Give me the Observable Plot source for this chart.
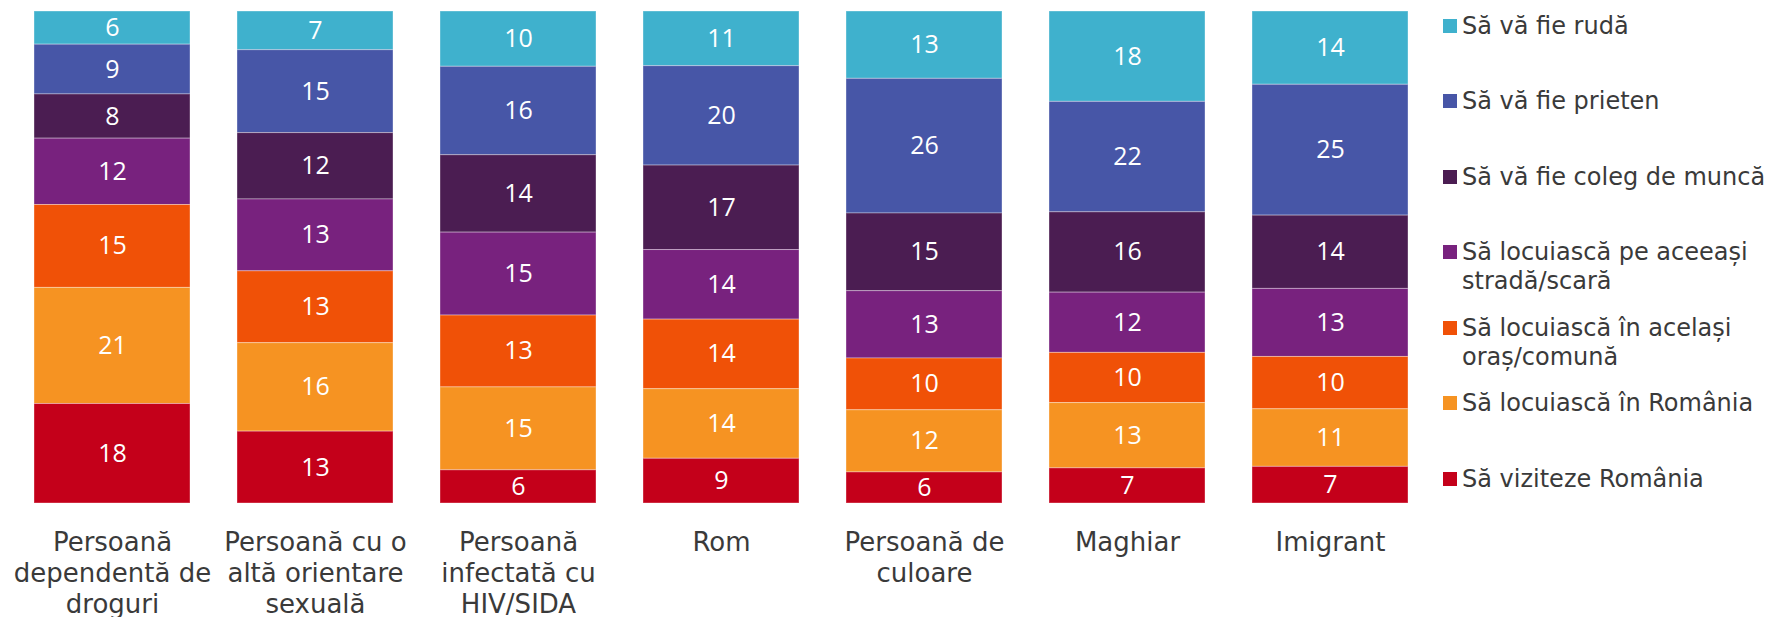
<!DOCTYPE html>
<html>
<head>
<meta charset="utf-8">
<script src="https://cdn.jsdelivr.net/npm/d3@7"></script>
<script src="https://cdn.jsdelivr.net/npm/@observablehq/plot@0.6"></script>
<style>
  html, body { margin: 0; padding: 0; background: #fff; }
  #wrap { position: relative; width: 1770px; height: 617px; overflow: hidden; font-family: "DejaVu Sans", Verdana, sans-serif; }
  #legend { position: absolute; left: 0; top: 0; }
  .li { position: absolute; left: 1443px; font-size: 24px; line-height: 29px; color: #3a3a3a; white-space: nowrap; }
  .sw { position: absolute; left: 0; top: 7px; width: 14px; height: 14px; }
  .lt { position: absolute; left: 19px; top: 0; }
</style>
</head>
<body>
<div id="wrap"><div id="legend"></div></div>
<script>
const categories = ["Persoană dependentă de droguri", "Persoană cu o altă orientare sexuală", "Persoană infectată cu HIV/SIDA", "Rom", "Persoană de culoare", "Maghiar", "Imigrant"];
const tickLabels = ["Persoană\ndependentă de\ndroguri", "Persoană cu o\naltă orientare\nsexuală", "Persoană\ninfectată cu\nHIV/SIDA", "Rom", "Persoană de\nculoare", "Maghiar", "Imigrant"];
// series listed top to bottom
const series = ["Să vă fie rudă", "Să vă fie prieten", "Să vă fie coleg de muncă", "Să locuiască pe aceeași stradă/scară", "Să locuiască în același oraș/comună", "Să locuiască în România", "Să viziteze România"];
const legendLabels = ["Să vă fie rudă", "Să vă fie prieten", "Să vă fie coleg de muncă", "Să locuiască pe aceeași\nstradă/scară", "Să locuiască în același\noraș/comună", "Să locuiască în România", "Să viziteze România"];
const colors = ["#3fb1cd", "#4756a7", "#4b1d52", "#78227e", "#f05107", "#f69322", "#c4001a"];
const rudaValues     = [6, 7, 10, 11, 13, 18, 14];
const prietenValues  = [9, 15, 16, 20, 26, 22, 25];
const colegValues    = [8, 12, 14, 17, 15, 16, 14];
const stradaValues   = [12, 13, 15, 14, 13, 12, 13];
const orasValues     = [15, 13, 13, 14, 10, 10, 10];
const romaniaValues  = [21, 16, 15, 14, 12, 13, 11];
const viziteazaValues = [18, 13, 6, 9, 6, 7, 7];
const seriesValues = [rudaValues, prietenValues, colegValues, stradaValues, orasValues, romaniaValues, viziteazaValues];

const data = [];
series.forEach((s, si) => categories.forEach((c, ci) => data.push({category: c, series: s, value: seriesValues[si][ci]})));

const stackOrder = series.slice().reverse(); // bottom first
const pi = 47 / 203;

const chart = Plot.plot({
  width: 1770,
  height: 617,
  marginTop: 11,
  marginBottom: 114,
  marginLeft: 0,
  marginRight: 0,
  style: {fontFamily: "'DejaVu Sans', Verdana, sans-serif", background: "white"},
  x: {domain: categories, range: [10.5, 1431.5], paddingInner: pi, paddingOuter: pi / 2, round: false, label: null},
  y: {domain: [0, 1], range: [503, 11], axis: null},
  color: {domain: series, range: colors},
  marks: [
    Plot.barY(data, Plot.stackY({offset: "normalize", order: stackOrder}, {x: "category", y: "value", z: "series", fill: "series", stroke: "white", strokeOpacity: 0.35, strokeWidth: 1})),
    Plot.text(data, Plot.stackY({offset: "normalize", order: stackOrder}, {x: "category", y: "value", z: "series", text: d => String(d.value), fill: "white", fontSize: 25, fontFamily: "'Open Sans', 'DejaVu Sans', sans-serif"})),
    Plot.axisX({tickSize: 0, tickPadding: 25.5, fontSize: 26, lineHeight: 1.19, fill: "#3a3a3a", tickFormat: d => tickLabels[categories.indexOf(d)], label: null})
  ]
});
document.getElementById("wrap").insertBefore(chart, document.getElementById("legend"));

const legend = document.getElementById("legend");
legendLabels.forEach((lab, i) => {
  const item = document.createElement("div");
  item.className = "li";
  item.style.top = (26 + i * 75.5 - 14.5) + "px";
  const sw = document.createElement("div");
  sw.className = "sw";
  sw.style.background = colors[i];
  const t = document.createElement("div");
  t.className = "lt";
  t.innerHTML = lab.split("\n").join("<br>");
  item.appendChild(sw);
  item.appendChild(t);
  legend.appendChild(item);
});
</script>
</body>
</html>
